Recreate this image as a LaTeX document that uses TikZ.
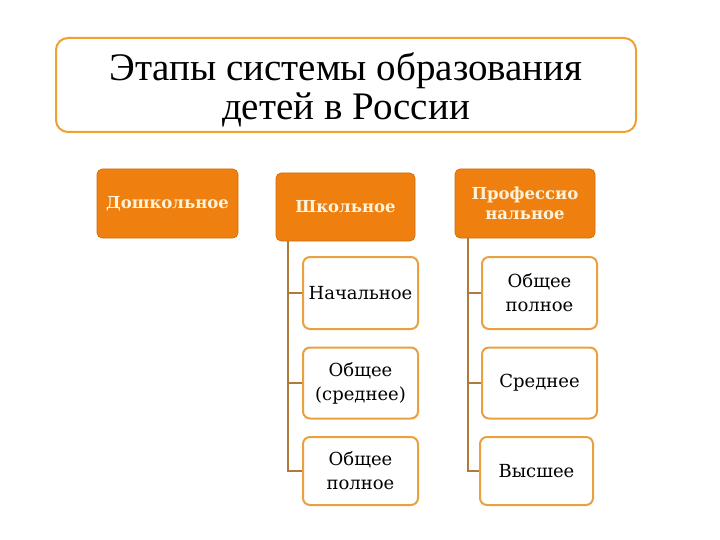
\documentclass[tikz,border=0pt]{standalone}
\usepackage{fontspec}
\setmainfont{Liberation Serif}
\newfontfamily\boxfont{DejaVu Serif}
\definecolor{orfill}{HTML}{EF8010}
\definecolor{orline}{HTML}{E9A040}
\definecolor{ttline}{HTML}{F0A030}
\definecolor{conn}{HTML}{B07A3A}
\definecolor{cream}{HTML}{FFF3DC}
\begin{document}
\begin{tikzpicture}[x=1pt,y=-1pt,
  topbox/.style={draw=orfill!85!black, line width=0.6pt, fill=orfill, rounded corners=5pt, text=cream,
    font=\boxfont\bfseries\fontsize{16.5}{20}\selectfont, align=center, inner sep=0pt},
  subbox/.style={draw=orline, line width=2pt, fill=white, rounded corners=7pt,
    font=\boxfont\fontsize{18}{24}\selectfont, align=center, inner sep=0pt},
  conline/.style={draw=conn, line width=1.8pt}]
\useasboundingbox (0,0) rectangle (720,540);
% title
\node[draw=ttline, line width=2pt, rounded corners=12pt, minimum width=580pt, minimum height=94pt] (titlebox) at (346,85) {};
\node[font=\fontsize{39}{38.5}\selectfont, align=center] (title) at (346,90)
  {Этапы системы образования\\детей в России};
% top boxes
\node[topbox, minimum width=141pt, minimum height=69pt] (pre) at (167.5,203.5) {Дошкольное};
\node[topbox, minimum width=139pt, minimum height=68pt] (sch) at (345.5,207) {Школьное};
\node[topbox, minimum width=140pt, minimum height=69pt] (pro) at (525,203.5) {Профессио\\нальное};
% school sub boxes
\node[subbox, minimum width=115pt, minimum height=72pt] (s1) at (360.5,293) {Начальное};
\node[subbox, minimum width=115pt, minimum height=71pt] (s2) at (360.5,383) {Общее\\(среднее)};
\node[subbox, minimum width=115pt, minimum height=68pt] (s3) at (360.5,471) {Общее\\полное};
% professional sub boxes
\node[subbox, minimum width=115pt, minimum height=72pt] (p1) at (539.5,293) {Общее\\полное};
\node[subbox, minimum width=115pt, minimum height=71pt] (p2) at (539.5,383) {Среднее};
\node[subbox, minimum width=113pt, minimum height=68pt] (p3) at (536.5,471) {Высшее};
% connectors
\coordinate (sl) at (288,241);
\coordinate (pl) at (468,238);
\draw[conline] (sl) -- (288,471) -- (s3.west);
\draw[conline] (288,293) -- (s1.west);
\draw[conline] (288,383) -- (s2.west);
\draw[conline] (pl) -- (468,471) -- (p3.west);
\draw[conline] (468,293) -- (p1.west);
\draw[conline] (468,383) -- (p2.west);
\end{tikzpicture}
\end{document}
